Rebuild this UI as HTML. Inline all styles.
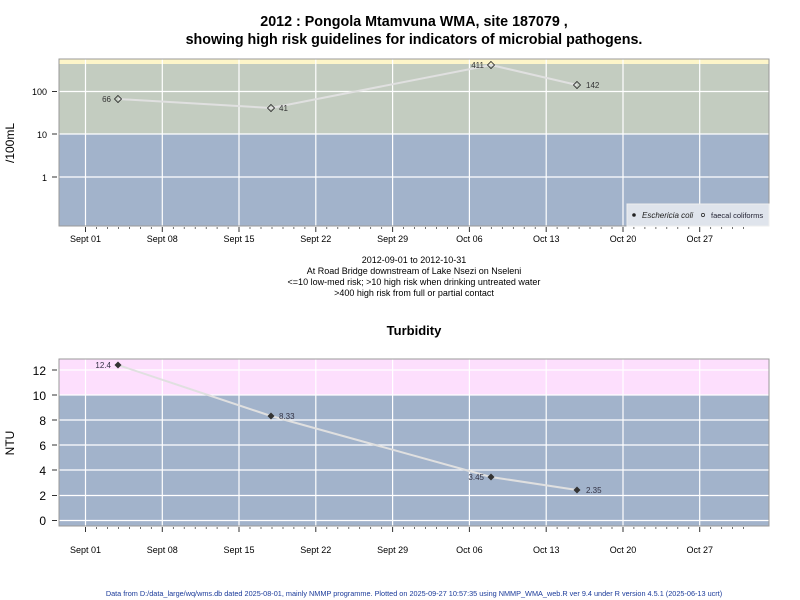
<!DOCTYPE html>
<html><head><meta charset="utf-8"><style>body{margin:0;background:#fff}svg{display:block}text{font-family:"Liberation Sans",Arial,sans-serif}</style></head><body>
<svg width="800" height="600" xmlns="http://www.w3.org/2000/svg">
<text x="414" y="26" font-size="14.3" font-weight="bold" text-anchor="middle">2012 : Pongola Mtamvuna WMA, site 187079 ,</text>
<text x="414" y="44" font-size="14.3" font-weight="bold" text-anchor="middle">showing high risk guidelines for indicators of microbial pathogens.</text>
<!-- top panel -->
<rect x="59" y="59" width="710" height="6" fill="#fdf5c9"/>
<rect x="59" y="64" width="710" height="70" fill="#c3ccc0"/>
<rect x="59" y="134" width="710" height="92" fill="#a2b3cb"/>
<g stroke="#fff" stroke-width="1.2">
<line x1="59" x2="769" y1="91.5" y2="91.5"/><line x1="59" x2="769" y1="134" y2="134"/><line x1="59" x2="769" y1="177" y2="177"/>
<line x1="85.5" x2="85.5" y1="59" y2="226"/><line x1="162.3" x2="162.3" y1="59" y2="226"/><line x1="239" x2="239" y1="59" y2="226"/><line x1="315.8" x2="315.8" y1="59" y2="226"/><line x1="392.6" x2="392.6" y1="59" y2="226"/><line x1="469.4" x2="469.4" y1="59" y2="226"/><line x1="546.2" x2="546.2" y1="59" y2="226"/><line x1="623" x2="623" y1="59" y2="226"/><line x1="699.7" x2="699.7" y1="59" y2="226"/>
</g>
<rect x="59" y="59" width="710" height="167" fill="none" stroke="#999"/>
<polyline points="118,99 271,108 491,65 577,85" fill="none" stroke="#e0e0e0" stroke-width="2"/>
<g fill="none" stroke="#222" stroke-width="0.8">
<path d="M118,95.5 l3.5,3.5 l-3.5,3.5 l-3.5,-3.5z"/><path d="M271,104.5 l3.5,3.5 l-3.5,3.5 l-3.5,-3.5z"/><path d="M491,61.5 l3.5,3.5 l-3.5,3.5 l-3.5,-3.5z"/><path d="M577,81.5 l3.5,3.5 l-3.5,3.5 l-3.5,-3.5z"/>
</g>
<g font-size="8" fill="#333">
<text x="111" y="102" text-anchor="end">66</text><text x="279" y="111">41</text><text x="484" y="68" text-anchor="end">411</text><text x="586" y="88">142</text>
</g>
<rect x="627" y="204" width="142" height="22" fill="#dfe4ec" stroke="#eee"/>
<circle cx="634" cy="215" r="1.8" fill="#222"/>
<text x="642" y="218" font-size="8" font-style="italic" fill="#222">Eschericia coli</text>
<circle cx="703" cy="215" r="1.6" fill="none" stroke="#222" stroke-width="0.7"/>
<text x="711" y="218" font-size="7.5" fill="#223">faecal coliforms</text>
<g font-size="9" text-anchor="end"><text x="47" y="95">100</text><text x="47" y="138">10</text><text x="47" y="181">1</text></g>
<g stroke="#333"><line x1="52" x2="57" y1="91.5" y2="91.5"/><line x1="52" x2="57" y1="134" y2="134"/><line x1="52" x2="57" y1="177" y2="177"/></g>
<text transform="translate(14,143) rotate(-90)" font-size="12" text-anchor="middle">/100mL</text>
<g id="xt" stroke="#333">
<path d="M85.5,227v5M162.3,227v5M239,227v5M315.8,227v5M392.6,227v5M469.4,227v5M546.2,227v5M623,227v5M699.7,227v5"/>
<path stroke-width="0.7" d="M96.5,227v2M107.4,227v2M118.4,227v2M129.4,227v2M140.4,227v2M151.3,227v2M173.3,227v2M184.2,227v2M195.2,227v2M206.2,227v2M217.1,227v2M228.1,227v2M250,227v2M261,227v2M272,227v2M283,227v2M293.9,227v2M304.9,227v2M326.8,227v2M337.8,227v2M348.8,227v2M359.7,227v2M370.7,227v2M381.7,227v2M403.6,227v2M414.6,227v2M425.5,227v2M436.5,227v2M447.5,227v2M458.4,227v2M480.4,227v2M491.3,227v2M502.3,227v2M513.3,227v2M524.2,227v2M535.2,227v2M557.1,227v2M568.1,227v2M579.1,227v2M590,227v2M601,227v2M612,227v2M633.9,227v2M644.9,227v2M655.9,227v2M666.8,227v2M677.8,227v2M688.8,227v2M710.7,227v2M721.7,227v2M732.6,227v2M743.6,227v2"/>
</g>
<g font-size="9" text-anchor="middle"><text x="85.5" y="242">Sept 01</text><text x="162.3" y="242">Sept 08</text><text x="239" y="242">Sept 15</text><text x="315.8" y="242">Sept 22</text><text x="392.6" y="242">Sept 29</text><text x="469.4" y="242">Oct 06</text><text x="546.2" y="242">Oct 13</text><text x="623" y="242">Oct 20</text><text x="699.7" y="242">Oct 27</text></g>
<g font-size="9" text-anchor="middle"><text x="414" y="263">2012-09-01 to 2012-10-31</text><text x="414" y="274">At Road Bridge downstream of Lake Nsezi on Nseleni</text><text x="414" y="285">&lt;=10 low-med risk; &gt;10 high risk when drinking untreated water</text><text x="414" y="296">&gt;400 high risk from full or partial contact</text></g>
<text x="414" y="335" font-size="13" font-weight="bold" text-anchor="middle">Turbidity</text>
<!-- bottom panel -->
<rect x="59" y="359" width="710" height="36" fill="#fddffd"/>
<rect x="59" y="395" width="710" height="131" fill="#a2b3cb"/>
<g stroke="#fff" stroke-width="1.2">
<line x1="59" x2="769" y1="370" y2="370"/><line x1="59" x2="769" y1="395" y2="395"/><line x1="59" x2="769" y1="420" y2="420"/><line x1="59" x2="769" y1="445" y2="445"/><line x1="59" x2="769" y1="470" y2="470"/><line x1="59" x2="769" y1="495.5" y2="495.5"/><line x1="59" x2="769" y1="520.5" y2="520.5"/>
<line x1="85.5" x2="85.5" y1="359" y2="526"/><line x1="162.3" x2="162.3" y1="359" y2="526"/><line x1="239" x2="239" y1="359" y2="526"/><line x1="315.8" x2="315.8" y1="359" y2="526"/><line x1="392.6" x2="392.6" y1="359" y2="526"/><line x1="469.4" x2="469.4" y1="359" y2="526"/><line x1="546.2" x2="546.2" y1="359" y2="526"/><line x1="623" x2="623" y1="359" y2="526"/><line x1="699.7" x2="699.7" y1="359" y2="526"/>
</g>
<rect x="59" y="359" width="710" height="167" fill="none" stroke="#999"/>
<polyline points="118,365 271,416 491,477 577,490" fill="none" stroke="#e0e0e0" stroke-width="2"/>
<g fill="#333"><path d="M118,361.5 l3.5,3.5 l-3.5,3.5 l-3.5,-3.5z"/><path d="M271,412.5 l3.5,3.5 l-3.5,3.5 l-3.5,-3.5z"/><path d="M491,473.5 l3.5,3.5 l-3.5,3.5 l-3.5,-3.5z"/><path d="M577,486.5 l3.5,3.5 l-3.5,3.5 l-3.5,-3.5z"/></g>
<g font-size="8" fill="#334"><text x="111" y="368" text-anchor="end">12.4</text><text x="279" y="419">8.33</text><text x="484" y="480" text-anchor="end">3.45</text><text x="586" y="493">2.35</text></g>
<g font-size="12" text-anchor="end"><text x="46" y="375">12</text><text x="46" y="400">10</text><text x="46" y="425">8</text><text x="46" y="450">6</text><text x="46" y="475">4</text><text x="46" y="500">2</text><text x="46" y="525">0</text></g>
<g stroke="#333"><path d="M52,370h5M52,395h5M52,420h5M52,445h5M52,470h5M52,495.5h5M52,520.5h5"/></g>
<text transform="translate(14,443) rotate(-90)" font-size="12" text-anchor="middle">NTU</text>
<use href="#xt" transform="translate(0,300)"/>
<g font-size="9" text-anchor="middle"><text x="85.5" y="553">Sept 01</text><text x="162.3" y="553">Sept 08</text><text x="239" y="553">Sept 15</text><text x="315.8" y="553">Sept 22</text><text x="392.6" y="553">Sept 29</text><text x="469.4" y="553">Oct 06</text><text x="546.2" y="553">Oct 13</text><text x="623" y="553">Oct 20</text><text x="699.7" y="553">Oct 27</text></g>
<text x="414" y="596" font-size="7.3" fill="#1a3a9a" text-anchor="middle">Data from D:/data_large/wq/wms.db dated 2025-08-01, mainly NMMP programme. Plotted on 2025-09-27 10:57:35 using NMMP_WMA_web.R ver 9.4 under R version 4.5.1 (2025-06-13 ucrt)</text>
</svg>
</body></html>
